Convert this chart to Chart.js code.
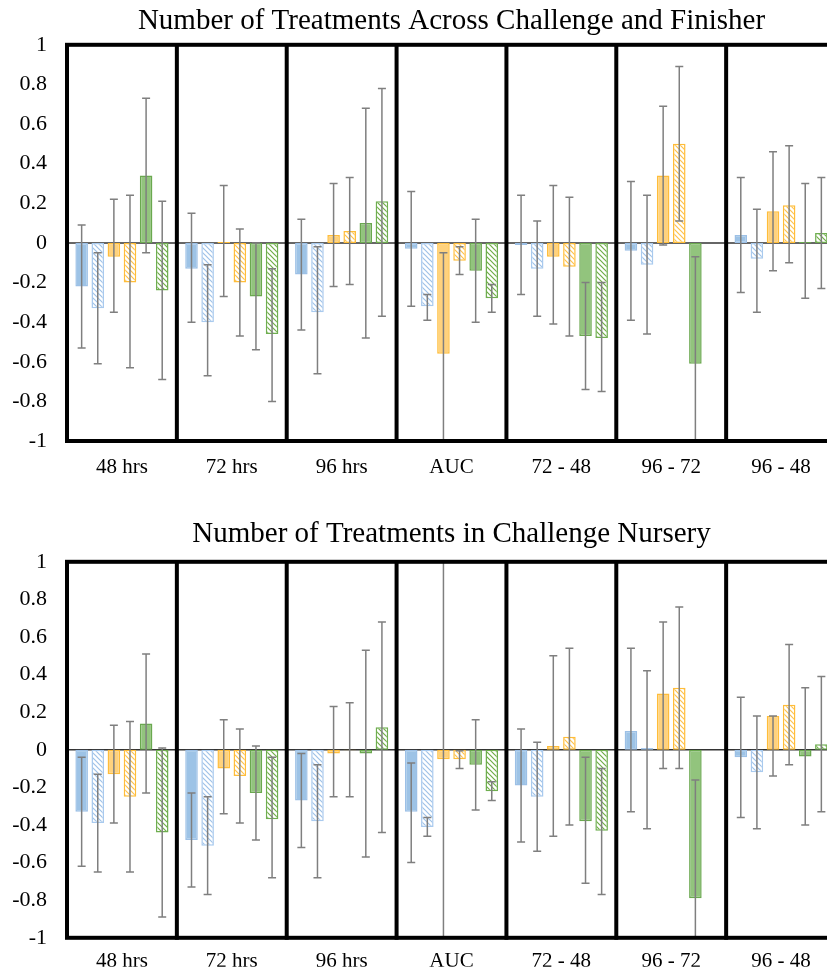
<!DOCTYPE html>
<html lang="en">
<head>
<meta charset="UTF-8">
<title>Number of Treatments</title>
<style>
  html, body { margin: 0; padding: 0; overflow: hidden; background: #fff; }
  .panel { position: absolute; left: 0; }
  #panel-top { top: 0; }
  #panel-bottom { top: 500px; }
</style>
</head>
<body>
<div class="panel" id="panel-top"><canvas id="chart-top" width="840" height="500"></canvas></div>
<div class="panel" id="panel-bottom"><canvas id="chart-bottom" width="840" height="471"></canvas></div>

<script src="https://cdn.jsdelivr.net/npm/chart.js"></script>
<script>
// categories and series
const categories = ['48 hrs', '72 hrs', '96 hrs', 'AUC', '72 - 48', '96 - 72', '96 - 48'];
const seriesNames = ['Blue', 'Blue (hatched)', 'Orange', 'Orange (hatched)', 'Green', 'Green (hatched)'];

// top panel: Across Challenge and Finisher (one row per series)
const topMeans = [
  [-0.22, -0.13, -0.16, -0.03, -0.01, -0.04, 0.04],
  [-0.33, -0.40, -0.35, -0.32, -0.13, -0.11, -0.08],
  [-0.07, 0.005, 0.04, -0.56, -0.07, 0.34, 0.16],
  [-0.20, -0.20, 0.06, -0.09, -0.12, 0.50, 0.19],
  [0.34, -0.27, 0.10, -0.14, -0.47, -0.61, 0.005],
  [-0.24, -0.46, 0.21, -0.28, -0.48, null, 0.05]
];
const topLow = [
  [-0.53, -0.40, -0.44, -0.32, -0.26, -0.39, -0.25],
  [-0.61, -0.67, -0.66, -0.39, -0.37, -0.46, -0.35],
  [-0.35, -0.27, -0.22, -1.08, -0.41, -0.01, -0.14],
  [-0.63, -0.47, -0.21, -0.16, -0.47, 0.11, -0.10],
  [-0.05, -0.54, -0.48, -0.40, -0.74, -1.15, -0.28],
  [-0.69, -0.80, -0.37, -0.35, -0.75, null, -0.23]
];
const topHigh = [
  [0.09, 0.15, 0.12, 0.26, 0.24, 0.31, 0.33],
  [-0.05, -0.11, -0.02, -0.26, 0.11, 0.24, 0.17],
  [0.22, 0.29, 0.30, -0.05, 0.29, 0.69, 0.46],
  [0.24, 0.07, 0.33, -0.02, 0.23, 0.89, 0.49],
  [0.73, 0.00, 0.68, 0.12, -0.20, -0.07, 0.30],
  [0.21, -0.13, 0.78, -0.21, -0.20, null, 0.33]
];

// bottom panel: Challenge Nursery
const bottomMeans = [
  [-0.33, -0.48, -0.27, -0.33, -0.19, 0.10, -0.04],
  [-0.39, -0.51, -0.38, -0.41, -0.25, 0.01, -0.12],
  [-0.13, -0.10, -0.02, -0.05, 0.02, 0.30, 0.18],
  [-0.25, -0.14, -0.003, -0.05, 0.07, 0.33, 0.24],
  [0.14, -0.23, -0.02, -0.08, -0.38, -0.79, -0.035],
  [-0.44, -0.37, 0.12, -0.22, -0.43, null, 0.03]
];
const bottomLow = [
  [-0.62, -0.73, -0.52, -0.60, -0.49, -0.33, -0.36],
  [-0.65, -0.77, -0.68, -0.46, -0.54, -0.42, -0.42],
  [-0.39, -0.34, -0.25, -1.2, -0.46, -0.10, -0.14],
  [-0.65, -0.39, -0.25, -0.10, -0.40, -0.10, -0.08],
  [-0.23, -0.48, -0.57, -0.32, -0.71, -1.3, -0.40],
  [-0.89, -0.68, -0.44, -0.27, -0.77, null, -0.33]
];
const bottomHigh = [
  [-0.04, -0.23, -0.02, -0.07, 0.11, 0.54, 0.28],
  [-0.13, -0.25, -0.08, -0.36, 0.04, 0.42, 0.18],
  [0.13, 0.16, 0.23, 1.2, 0.50, 0.68, 0.18],
  [0.15, 0.11, 0.25, -0.005, 0.54, 0.76, 0.56],
  [0.51, 0.02, 0.53, 0.16, -0.04, -0.16, 0.33],
  [0.01, -0.04, 0.68, -0.17, -0.10, null, 0.39]
];

const serif = '"Liberation Serif", "Times New Roman", serif';

function hatch(color) {
  const c = document.createElement('canvas');
  c.width = 5; c.height = 5;
  const g = c.getContext('2d');
  g.fillStyle = '#fff';
  g.fillRect(0, 0, 5, 5);
  g.strokeStyle = color;
  g.lineWidth = 1.2;
  g.beginPath();
  [-5, 0, 5].forEach(k => { g.moveTo(-1, -1 + k); g.lineTo(6, 6 + k); });
  g.stroke();
  return g.createPattern(c, 'repeat');
}

const fills = [
  'rgba(157, 195, 230, 1)', hatch('#9fc2e8'),
  'rgba(255, 210, 125, 1)', hatch('#ffc34d'),
  'rgba(146, 196, 125, 1)', hatch('#70ad47')
];
const borders = ['#9cc0e6', '#a9caee', '#ffbd3a', '#ffbd3a', '#6aa84f', '#6fae50'];

// error bars, zero line and the black frame
const decorations = {
  id: 'decorations',
  beforeDatasetsDraw(chart) {
    const { ctx, chartArea, scales: { y } } = chart;
    const y0 = y.getPixelForValue(0);
    ctx.save();
    ctx.strokeStyle = '#333';
    ctx.lineWidth = 1.5;
    ctx.beginPath();
    ctx.moveTo(chartArea.left, y0);
    ctx.lineTo(chartArea.right, y0);
    ctx.stroke();
    ctx.restore();
  },
  afterDatasetsDraw(chart) {
    const { ctx, chartArea, scales: { x, y } } = chart;
    ctx.save();
    ctx.beginPath();
    ctx.rect(chartArea.left, chartArea.top, chartArea.width, chartArea.height);
    ctx.clip();
    ctx.strokeStyle = '#7f7f7f';
    ctx.lineWidth = 1.5;
    chart.data.datasets.forEach((ds, di) => {
      chart.getDatasetMeta(di).data.forEach((bar, i) => {
        const lo = ds.errLow[i], hi = ds.errHigh[i];
        if (lo == null || hi == null) return;
        const px = bar.x, y1 = y.getPixelForValue(lo), y2 = y.getPixelForValue(hi);
        ctx.beginPath();
        ctx.moveTo(px, y1); ctx.lineTo(px, y2);
        ctx.moveTo(px - 4, y1); ctx.lineTo(px + 4, y1);
        ctx.moveTo(px - 4, y2); ctx.lineTo(px + 4, y2);
        ctx.stroke();
      });
    });
    ctx.restore();

    ctx.save();
    ctx.strokeStyle = '#000';
    ctx.lineWidth = 4;
    ctx.strokeRect(chartArea.left, chartArea.top, chartArea.width, chartArea.height);
    ctx.beginPath();
    for (let i = 1; i < categories.length; i++) {
      const bx = x.getPixelForValue(i - 0.5);
      ctx.moveTo(bx, chartArea.top);
      ctx.lineTo(bx, chartArea.bottom + 2);
    }
    ctx.stroke();
    ctx.restore();
  }
};

function makeChart(id, title, means, low, high, opt) {
  const datasets = means.map((row, k) => ({
    label: seriesNames[k],
    data: row,
    errLow: low[k],
    errHigh: high[k],
    backgroundColor: fills[k],
    borderColor: borders[k],
    borderWidth: 1.5,
    borderSkipped: false,
    categoryPercentage: 0.88,
    barPercentage: 0.78
  }));

  return new Chart(document.getElementById(id), {
    type: 'bar',
    data: { labels: categories, datasets },
    options: {
      responsive: false,
      animation: false,
      layout: { padding: { left: 0, right: 4, top: 0, bottom: 0 } },
      plugins: {
        legend: { display: false },
        tooltip: { enabled: false },
        title: {
          display: true,
          text: title,
          fullSize: false,
          color: '#000',
          font: { family: serif, size: 29, weight: 'normal' },
          padding: opt.titlePad
        }
      },
      scales: {
        x: {
          grid: { display: false, drawTicks: false },
          border: { display: false },
          ticks: { color: '#000', padding: opt.xPad, font: { family: serif, size: 21 } },
          afterFit(s) { s.height = opt.xHeight; }
        },
        y: {
          min: -1,
          max: 1,
          grid: { display: false, drawTicks: false },
          border: { display: false },
          ticks: {
            stepSize: 0.2,
            color: '#000',
            padding: 20,
            font: { family: serif, size: 22 },
            callback: v => String(Math.round(v * 10) / 10)
          },
          afterFit(s) { s.width = 67; }
        }
      }
    },
    plugins: [decorations]
  });
}

makeChart('chart-top', 'Number of Treatments Across Challenge and Finisher',
  topMeans, topLow, topHigh,
  { titlePad: { top: 4, bottom: 6 }, xPad: 14, xHeight: 59 });

makeChart('chart-bottom', 'Number of Treatments in Challenge Nursery',
  bottomMeans, bottomLow, bottomHigh,
  { titlePad: { top: 17, bottom: 10 }, xPad: 11, xHeight: 29 });
</script>
</body>
</html>
